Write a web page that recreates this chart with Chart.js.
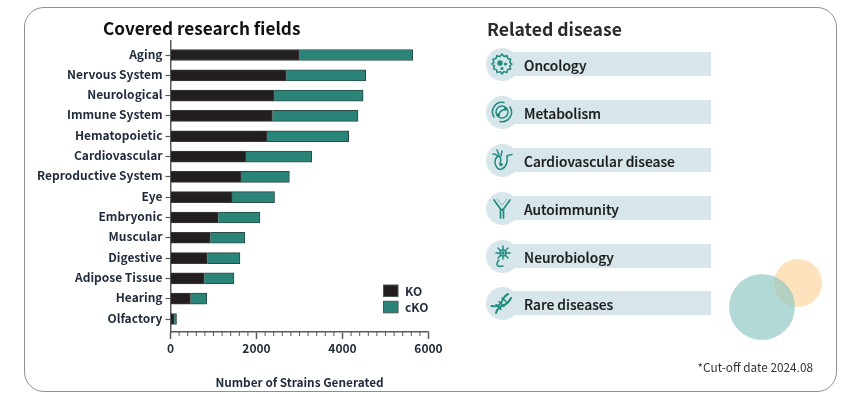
<!DOCTYPE html>
<html>
<head>
<meta charset="utf-8">
<title>Covered research fields</title>
<script src="https://cdn.jsdelivr.net/npm/chart.js@4"></script>
<style>
    html, body { margin: 0; padding: 0; background: #fff; }
    body { position: relative; width: 860px; height: 394px; overflow: hidden; font-family: "Noto Sans CJK SC", "Noto Sans", sans-serif; }
    #card { position: absolute; left: 24px; top: 7px; width: 811px; height: 383px; border: 1.5px solid #8f8f8f; border-radius: 20px; }
    canvas { position: absolute; left: 0; top: 0; }
    .heading { position: absolute; font-weight: 700; line-height: 24px; white-space: nowrap; }
    .band { position: absolute; left: 502px; width: 209px; height: 24px; background: #d7e6eb; }
    .disc { position: absolute; left: 485.5px; width: 33px; height: 33px; border-radius: 50%; background: #d7e6eb; }
    .disc svg { position: absolute; left: 4.5px; top: 4.5px; width: 24px; height: 24px; fill: none; stroke: #1f8a7d; stroke-width: 1.5; stroke-linecap: round; stroke-linejoin: round; }
    .name { position: absolute; left: 524px; font-size: 13.8px; font-weight: 500; line-height: 24px; color: #1b1b1b; white-space: nowrap; -webkit-text-stroke: 0.2px #1b1b1b; }
    .blob { position: absolute; border-radius: 50%; }
    #note { position: absolute; right: 47px; top: 358px; font-size: 11.8px; line-height: 18px; color: #333; white-space: nowrap; }
</style>
</head>
<body>
<div id="card"></div>
<canvas id="fields-chart" width="860" height="394"></canvas>
<div class="heading" style="left:103px;top:16px;font-size:17.2px;color:#111;">Covered research fields</div>
<div class="heading" style="left:487px;top:17px;font-size:17.6px;color:#2b2b2b;">Related disease</div>
<div id="diseases"></div>
<div class="blob" style="left:774px;top:259px;width:48px;height:48px;background:#fde3bd;"></div>
<div class="blob" style="left:729px;top:274px;width:66px;height:66px;background:rgba(139,197,192,0.65);"></div>
<div id="note">*Cut-off date 2024.08</div>

<script>
// Chart data
const categories = ['Aging', 'Nervous System', 'Neurological', 'Immune System', 'Hematopoietic', 'Cardiovascular',
    'Reproductive System', 'Eye', 'Embryonic', 'Muscular', 'Digestive', 'Adipose Tissue', 'Hearing', 'Olfactory'];
const koValues = [2990, 2690, 2410, 2370, 2240, 1750, 1640, 1430, 1110, 925, 855, 785, 465, 85];
const ckoValues = [2645, 1850, 2070, 1990, 1905, 1535, 1125, 990, 970, 805, 760, 690, 380, 55];
const xTicks = [0, 2000, 4000, 6000];
const xMinorStep = 200;
const diseaseNames = ['Oncology', 'Metabolism', 'Cardiovascular disease', 'Autoimmunity', 'Neurobiology', 'Rare diseases'];
const diseaseRows = [52, 100, 148, 196, 244, 291];

// Simple line icons for the disease list, same order as diseaseNames
const diseaseIcons = [
    '<path d="M12 2l2 2.5 3-1 .7 3 3 .8-1 3 2.3 1.7-2.3 1.9 1 3-3 .7-.8 3-3-1-1.9 2.3-1.9-2.3-3 1-.7-3-3-.8 1-3L1.7 12 4 10.300l-1-3 3-.7.8-3 3 1z"/><circle cx="10" cy="11" r="2" fill="#1f8a7d"/><circle cx="15.500" cy="12" r=".8" fill="#1f8a7d"/><circle cx="12" cy="16.500" r=".8" fill="#1f8a7d"/>',
    '<circle cx="12" cy="12" r="6"/><path d="M4 17A9.500 9.500 0 0 1 14 2.600M20 7A9.500 9.500 0 0 1 10 21.400M8.500 14.500c2-4 5-5 7-5"/><circle cx="8.500" cy="15" r="1" fill="#1f8a7d"/><circle cx="15.500" cy="9" r="1" fill="#1f8a7d"/>',
    '<path d="M9 8c-4 1-5 6-3 10 1 3 4 4 6 3 4-2 6-7 5-12M9 8c2 2 2 5 1 7M7 2c1 2 2 4 2 6M12 3l-1 5M17 8c2-1 3-1.500 5-1.500M3 6c2 0 4 1 5 2"/><circle cx="11" cy="16.500" r="1" fill="#1f8a7d"/>',
    '<path d="M10.500 22V13L4 4M13.500 22V13L20 4M10.500 13l1.500 1 1.500-1" stroke-width="1.700"/><path d="M7 2.500l4.500 6.500M17 2.500l-4.500 6.500" stroke="#7fbdb6" stroke-width="1"/>',
    '<circle cx="13" cy="9" r="3"/><circle cx="13" cy="9" r="1" fill="#1f8a7d"/><path d="M13 2v3M13 13v2M6 9h3M17 9h3M8 4l2.500 2.500M18 4l-2.500 2.500M8 14l2.500-2.500M18 14l-2.500-2.500M9 16c-2 2-3 5-1 6 1 .5 3 .5 5 0"/>',
    '<path d="M1.500 15c6 1.500 10-2 11.500-7 1-2 3-4 5-5M6 22c1-4 3-6 7-7.500 3-1 6-3.500 8-7.500" stroke-width="2"/><path d="M6 13.500l5 5M9 10.500l5 5M12 7l5 4.500" stroke-width="1.500"/>'
];

// Build the list on the right
const diseaseHtml = diseaseNames.map((name, i) => {
    const top = diseaseRows[i];
    return `<div class="band" style="top:${top}px"></div>
        <div class="disc" style="top:${top - 4.5}px"><svg viewBox="0 0 24 24">${diseaseIcons[i]}</svg></div>
        <div class="name" style="top:${top + 1}px">${name}</div>`;
}).join('');
document.getElementById('diseases').innerHTML = diseaseHtml;

const labelFont = { family: '"Noto Sans CJK SC", "Noto Sans", sans-serif', size: 12, weight: '700' };
const axisColor = '#58595b';

// Minor ticks on the x axis and the legend inside the plot
const extrasPlugin = {
    id: 'extras',
    afterDraw(chart) {
        const { ctx, scales } = chart;
        const x = scales.x;
        const axisY = chart.chartArea.bottom;

        ctx.save();
        ctx.strokeStyle = axisColor;
        ctx.lineWidth = 1;
        for (let v = x.min; v <= x.max; v += xMinorStep) {
            if (xTicks.includes(v)) continue;
            const px = x.getPixelForValue(v);
            ctx.beginPath();
            ctx.moveTo(px, axisY);
            ctx.lineTo(px, axisY + 4);
            ctx.stroke();
        }

        ctx.font = '700 12px ' + labelFont.family;
        ctx.textBaseline = 'middle';
        chart.data.datasets.forEach((ds, i) => {
            const top = 285 + i * 16.300;
            ctx.fillStyle = ds.backgroundColor;
            ctx.strokeStyle = '#4a5553';
            ctx.fillRect(383.500, top, 14.500, 11.500);
            ctx.strokeRect(383.500, top, 14.500, 11.500);
            ctx.fillStyle = '#1f2a3a';
            ctx.fillText(ds.label, 405, top + 6);
        });
        ctx.restore();
    }
};

new Chart(document.getElementById('fields-chart'), {
    type: 'bar',
    data: {
        datasets: [
            {
                label: 'KO',
                data: koValues.map((v, i) => ({ x: v, y: i })),
                backgroundColor: '#231f20',
                borderColor: '#3a3a3c',
                borderWidth: 1
            },
            {
                label: 'cKO',
                data: ckoValues.map((v, i) => ({ x: v, y: i })),
                backgroundColor: '#2a8478',
                borderColor: '#2b4a47',
                borderWidth: 1
            }
        ]
    },
    options: {
        indexAxis: 'y',
        responsive: false,
        animation: false,
        barThickness: 11,
        layout: { padding: { left: 0, top: 41, right: 431.500, bottom: 0 } },
        plugins: {
            legend: { display: false },
            tooltip: { enabled: false }
        },
        scales: {
            x: {
                type: 'linear',
                stacked: true,
                min: 0,
                max: 6000,
                afterFit(scale) { scale.height = 62; },
                ticks: {
                    stepSize: 2000,
                    padding: 2,
                    maxRotation: 0,
                    color: '#1f2a3a',
                    font: labelFont,
                    callback: (value) => String(value)
                },
                grid: { drawOnChartArea: false, tickLength: 7, tickColor: axisColor, tickWidth: 1.500 },
                border: { color: axisColor, width: 1.500 },
                title: {
                    display: true,
                    text: 'Number of Strains Generated',
                    color: '#1f2a3a',
                    font: { ...labelFont, size: 11.8 },
                    padding: { top: 0, bottom: 4 }
                }
            },
            y: {
                // linear so the axis can run a little past the first and last bar
                type: 'linear',
                bounds: 'data',
                offset: false,
                stacked: true,
                reverse: true,
                min: -0.69,
                max: 13.64,
                afterFit(scale) { scale.width = 170.500; },
                // one tick per category, not stepped from the axis minimum
                afterBuildTicks(scale) {
                    scale.ticks = categories.map((name, i) => ({ value: i }));
                },
                ticks: {
                    autoSkip: false,
                    padding: 3,
                    labelOffset: -1,
                    color: '#1f2a3a',
                    font: labelFont,
                    callback: (value) => categories[value]
                },
                grid: { offset: false, drawOnChartArea: false, tickLength: 5, tickColor: axisColor, tickWidth: 1.200 },
                border: { color: axisColor, width: 1.500 }
            }
        }
    },
    plugins: [extrasPlugin]
});
</script>
</body>
</html>
